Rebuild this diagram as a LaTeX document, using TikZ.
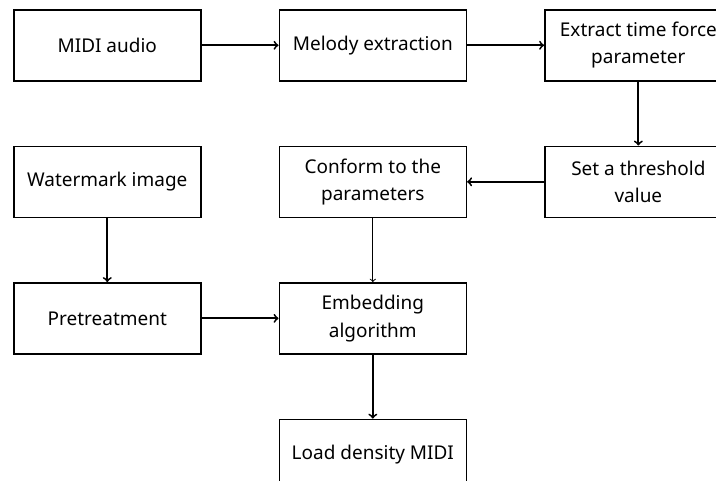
\documentclass[tikz,border=0pt]{standalone}
\usepackage{fontspec}
\setmainfont{Noto Sans}
\usetikzlibrary{arrows, positioning}

\begin{document}
\begin{tikzpicture}[node distance=1.6cm and 1.925cm]
\tikzstyle{stage} = [rectangle, minimum width=4.675cm, minimum height=1.775cm, text centered, align=center, draw=black, line width=1.1pt, font=\fontsize{13.5}{19.5}\selectfont]
\tikzstyle{flow} = [->, line width=1.3pt]

\useasboundingbox (0,0) rectangle (17.9,-12);
\clip (0,0) rectangle (17.9,-12);

\node (midi) [stage, anchor=north west] at (0.325,-0.225) {MIDI audio};
\node (melody) [stage, right=of midi] {Melody extraction};
\node (extract) [stage, right=of melody] {Extract time force\\parameter};
\node (threshold) [stage, below=of extract] {Set a threshold\\value};
\node (conform) [stage, below=of melody] {Conform to the\\parameters};
\node (watermark) [stage, below=of midi] {Watermark image};
\node (pretreat) [stage, below=of watermark] {Pretreatment};
\node (embed) [stage, below=of conform] {Embedding\\algorithm};
\node (load) [stage, below=of embed] {Load density MIDI};

\draw [flow] (midi) -- (melody);
\draw [flow] (melody) -- (extract);
\draw [flow] (extract) -- (threshold);
\draw [flow] (threshold) -- (conform);
\draw [flow] (watermark) -- (pretreat);
\draw [flow, line width=0.7pt] (conform) -- (embed);
\draw [flow] (pretreat) -- (embed);
\draw [flow] (embed) -- (load);

\end{tikzpicture}
\end{document}
